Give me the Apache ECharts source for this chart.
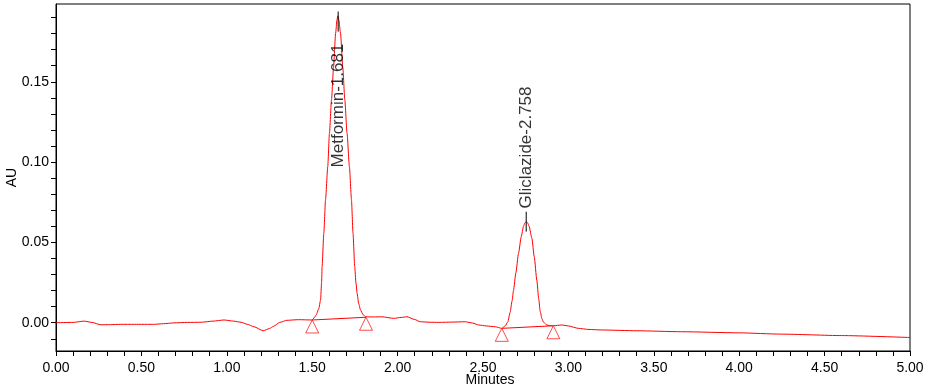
<!DOCTYPE html>
<html>
<head>
<meta charset="utf-8">
<script src="https://cdn.jsdelivr.net/npm/echarts@6/dist/echarts.min.js"></script>
<style>
html,body{margin:0;padding:0;background:#fff;}
#chart{width:934px;height:389px;}
</style>
</head>
<body>
<div id="chart"></div>
<script>
// Chromatogram trace: [time (min), absorbance (AU)]
var traceTime = [0.00,0.10,0.165,0.21,0.263,0.32,0.38,0.46,0.575,0.63,0.69,0.77,0.85,0.92,0.984,1.04,1.083,1.12,1.159,1.213,1.25,1.274,1.31,1.352,1.42,1.50,
  1.522,1.538,1.549,1.555,1.558,1.568,1.578,1.591,1.601,1.613,1.625,1.637,1.645,1.650,1.656,1.666,1.679,1.691,1.704,1.718,1.730,1.739,1.749,1.756,1.763,1.772,1.783,1.798,1.812,
  1.86,1.909,1.977,2.02,2.055,2.10,2.133,2.19,2.24,2.32,2.396,2.44,2.474,2.52,2.572,2.61,
  2.630,2.645,2.659,2.670,2.679,2.692,2.708,2.724,2.737,2.745,2.753,2.761,2.770,2.786,2.800,2.815,2.826,2.835,2.845,2.854,2.873,2.890,2.912,
  2.961,3.00,3.058,3.12,3.195,3.40,3.662,4.00,4.247,4.60,5.00];
var traceAU = [0.0000,0.0002,0.0010,0.0002,-0.0013,-0.0012,-0.0010,-0.0010,-0.0010,-0.0006,-0.0001,0.0002,0.0003,0.0010,0.0017,0.0010,0.0003,-0.0010,-0.0025,-0.0050,-0.0036,-0.0022,0.0002,0.0015,0.0019,0.0017,
  0.0045,0.0085,0.0141,0.0250,0.0349,0.0557,0.0764,0.0971,0.1180,0.1387,0.1590,0.1800,0.1885,0.1910,0.1885,0.1800,0.1590,0.1387,0.1180,0.0970,0.0764,0.0557,0.0349,0.0250,0.0183,0.0120,0.0079,0.0050,0.0037,
  0.0036,0.0037,0.0027,0.0033,0.0037,0.0020,0.0006,0.0003,0.0002,0.0004,0.0006,-0.0002,-0.0014,-0.0020,-0.0025,-0.0035,
  -0.0020,0.0005,0.0065,0.0135,0.0204,0.0308,0.0432,0.0536,0.0600,0.0622,0.0629,0.0622,0.0600,0.0526,0.0411,0.0266,0.0150,0.0070,0.0025,0.0004,-0.0014,-0.0018,-0.0019,
  -0.0014,-0.0020,-0.0035,-0.0042,-0.0045,-0.0050,-0.0056,-0.0063,-0.0071,-0.0080,-0.0092];

// Integration baseline marks (peak start / end)
var markTime = [1.50, 1.815, 2.61, 2.912];
var markAU   = [0.0017, 0.0034, -0.0035, -0.0019];

// Peak annotations
var peakNames     = ['Metformin-1.681', 'Gliclazide-2.758'];
var peakTime      = [1.652, 2.753];
var peakTickTop   = [0.1937, 0.0691];
var peakTickBot   = [0.1812, 0.0567];
var peakLabelAU   = [0.1352, 0.1091];

// Axis ticks / labels
var xTickValues  = [];
for (var i = 0; i <= 50; i++) xTickValues.push(i / 10);
var xLabelValues = [0, 0.5, 1.0, 1.5, 2.0, 2.5, 3.0, 3.5, 4.0, 4.5, 5.0];
var yTickValues  = [-0.01,0,0.01,0.02,0.03,0.04,0.05,0.06,0.07,0.08,0.09,0.10,0.11,0.12,0.13,0.14,0.15,0.16,0.17,0.18,0.19];
var yLabelValues = [0, 0.05, 0.10, 0.15];

var FONT = 'Liberation Sans, Arial, sans-serif';

var trace = traceTime.map(function (t, i) { return [t, traceAU[i]]; });
var marks = markTime.map(function (t, i) { return [t, markAU[i]]; });

var series = [];
series.push({
  type: 'line', data: trace, showSymbol: false, smooth: 0.2, smoothMonotone: 'x',
  lineStyle: { color: '#ff0000', width: 1 }, silent: true, z: 3
});
// integration baselines
for (var k = 0; k < markTime.length; k += 2) {
  series.push({
    type: 'line', data: [marks[k], marks[k + 1]], showSymbol: false,
    lineStyle: { color: '#ff0000', width: 1 }, silent: true, z: 3
  });
}
series.push({
  type: 'scatter', data: marks, symbol: 'triangle', symbolSize: [13, 13], symbolOffset: [0, 6.5],
  itemStyle: { color: 'rgba(0,0,0,0)', borderColor: '#ff2020', borderWidth: 1 }, silent: true, z: 4
});
peakNames.forEach(function (n, i) {
  series.push({
    type: 'line', data: [[peakTime[i], peakTickTop[i]], [peakTime[i], peakTickBot[i]]], showSymbol: false,
    lineStyle: { color: '#000', width: 1 }, silent: true, z: 5
  });
});
series.push({
  type: 'scatter', symbolSize: 0, silent: true, z: 6,
  data: peakNames.map(function (n, i) { return { name: n, value: [peakTime[i], peakLabelAU[i]] }; }),
  label: {
    show: true, position: 'inside', rotate: 90, formatter: '{b}',
    color: '#000', fontSize: 17, fontFamily: FONT, textBorderWidth: 0, textBorderColor: 'transparent'
  }
});

var chart = echarts.init(document.getElementById('chart'), null, { renderer: 'canvas' });
chart.setOption({
  animation: false,
  backgroundColor: '#fff',
  grid: { left: 56, right: 24, top: 4, bottom: 38, containLabel: false, outerBoundsMode: 'none',
    show: true, borderColor: '#000', borderWidth: 1, backgroundColor: 'transparent' },
  xAxis: {
    type: 'value', min: 0, max: 5,
    name: 'Minutes', nameLocation: 'middle', nameGap: 22, nameMoveOverlap: false,
    nameTextStyle: { color: '#000', fontSize: 14, fontFamily: 'Liberation Sans Narrow, ' + FONT, padding: [0, 0, 0, 14] },
    axisLine: { show: true, onZero: false, lineStyle: { color: '#000', width: 1 } },
    axisTick: { show: true, length: 5, lineStyle: { color: '#000' }, customValues: xTickValues },
    axisLabel: { color: '#000', fontSize: 14, fontFamily: FONT, margin: 10, customValues: xLabelValues,
      formatter: function (v) { return v.toFixed(2); } },
    splitLine: { show: false }
  },
  yAxis: {
    type: 'value', min: -0.0176, max: 0.1984,
    name: 'AU', nameLocation: 'middle', nameGap: 37, nameMoveOverlap: false,
    nameTextStyle: { color: '#000', fontSize: 14, fontFamily: FONT },
    axisLine: { show: true, onZero: false, lineStyle: { color: '#000', width: 1 } },
    axisTick: { show: true, length: 5, lineStyle: { color: '#000' }, customValues: yTickValues },
    axisLabel: { color: '#000', fontSize: 14, fontFamily: FONT, margin: 7, customValues: yLabelValues,
      formatter: function (v) { return v.toFixed(2); } },
    splitLine: { show: false }
  },
  series: series
});
</script>
</body>
</html>
